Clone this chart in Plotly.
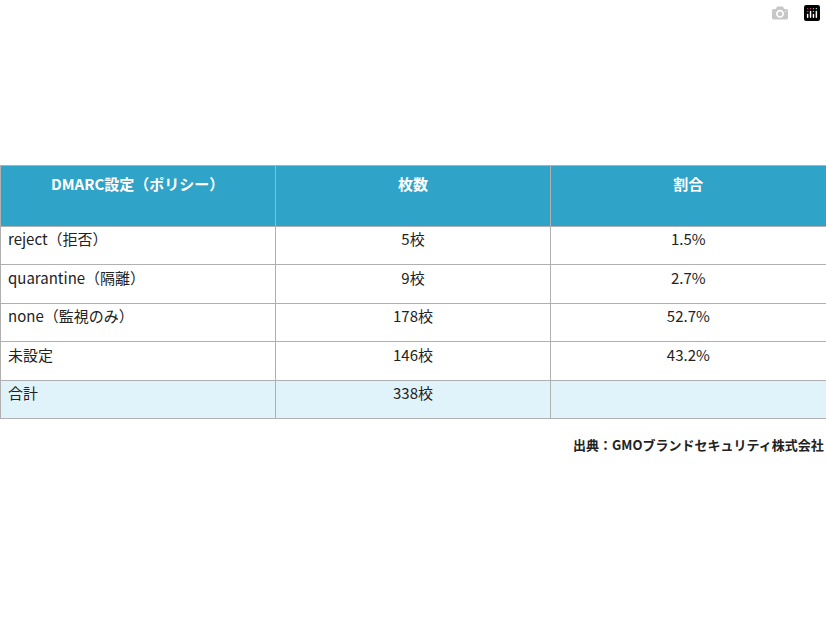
import plotly.graph_objects as go

headers = ["DMARC設定（ポリシー）", "枚数", "割合"]
policies = ["reject（拒否）", "quarantine（隔離）", "none（監視のみ）", "未設定", "合計"]
counts = ["5校", "9校", "178校", "146校", "338校"]
shares = ["1.5%", "2.7%", "52.7%", "43.2%", ""]

W, H = 826, 620
row_fill = ["white"] * 4 + ["#e1f3fa"]
font = "Noto Sans CJK JP"

fig = go.Figure(go.Table(
    domain=dict(x=[0, 1], y=[0, 1 - 165 / H]),
    columnwidth=[1, 1, 1],
    header=dict(values=[f"<b>{h}</b>" for h in headers],
                fill_color="#2fa3c8", line_color="#b0b0b0",
                font=dict(family=font, size=15, color="white"),
                align="center", height=61),
    cells=dict(values=[policies, counts, shares],
               fill_color=[row_fill] * 3, line_color="#b0b0b0",
               font=dict(family=font, size=15, color="#222"),
               align=["left", "center", "center"], height=38.5),
))
fig.add_annotation(text="<b>出典：GMOブランドセキュリティ株式会社</b>", x=1, xref="paper",
                   y=1 - 444 / H, yref="paper", xanchor="right", yanchor="middle",
                   showarrow=False, font=dict(family=font, size=13, color="#222"))
fig.update_layout(width=W, height=H, margin=dict(l=0, r=0, t=0, b=0),
                  paper_bgcolor="white")
fig.write_html("out.html",
               post_script="document.body.style.margin='0';document.body.style.overflow='hidden';")
